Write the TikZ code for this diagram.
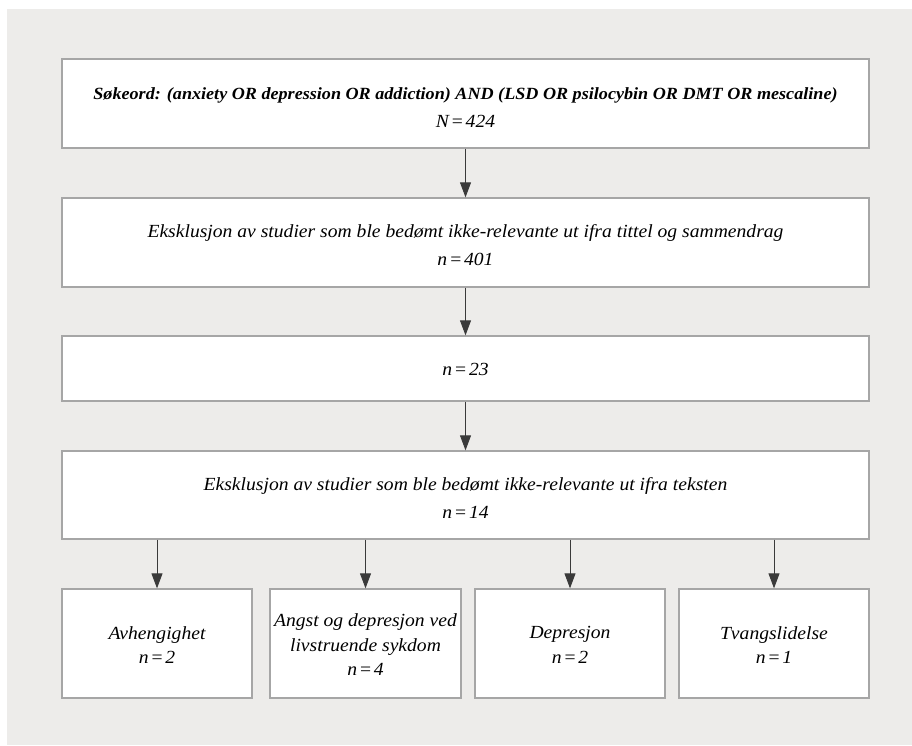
\documentclass[tikz,border=0pt]{standalone}
\usepackage{fontspec}
\setmainfont{Liberation Serif}[FakeStretch=1.06]
\usetikzlibrary{arrows.meta}
\definecolor{bg}{HTML}{EDECEA}
\definecolor{bd}{HTML}{A6A6A6}
\definecolor{ln}{HTML}{3A3A3A}
\newcommand{\eqs}{\kern1.8pt=\kern1.8pt}
\begin{document}
\begin{tikzpicture}[x=1pt,y=-1pt,
  box/.style={draw=bd, line width=1.3pt, fill=white, rectangle, inner sep=0pt},
  arr/.style={draw=ln, line width=0.9pt, -{Triangle[width=11pt,length=15pt]}},
  txt/.style={font=\fontsize{18.5}{28}\selectfont\itshape, align=center, inner sep=0pt},
  stxt/.style={font=\fontsize{18.5}{24.5}\selectfont\itshape, align=center, inner sep=0pt}]
\useasboundingbox (0,0) rectangle (912,745);
\fill[white] (0,0) rectangle (912,745);
\fill[bg] (7,9) rectangle (912,745);
% main boxes
\node[box, minimum width=807pt, minimum height=89pt] (b1) at (465.5,103.5) {};
\node[box, minimum width=807pt, minimum height=89pt] (b2) at (465.5,242.5) {};
\node[box, minimum width=807pt, minimum height=65pt] (b3) at (465.5,368.5) {};
\node[box, minimum width=807pt, minimum height=88pt] (b4) at (465.5,495) {};
% bottom boxes
\node[box, minimum width=190pt, minimum height=109pt] (c1) at (157,643.5) {};
\node[box, minimum width=191pt, minimum height=109pt] (c2) at (365.5,643.5) {};
\node[box, minimum width=190pt, minimum height=109pt] (c3) at (570,643.5) {};
\node[box, minimum width=190pt, minimum height=109pt] (c4) at (774,643.5) {};
% texts
\node[txt] (t1) at (465.5,108) {{\fontsize{17.1}{28}\selectfont\bfseries Søkeord: (anxiety OR depression OR addiction) AND (LSD OR psilocybin OR DMT OR mescaline)}\\N\eqs 424};
\node[txt] (t2) at (465.5,245) {Eksklusjon av studier som ble bedømt ikke-relevante ut ifra tittel og sammendrag\\n\eqs 401};
\node[txt] (t3) at (465.5,369) {n\eqs 23};
\node[txt] (t4) at (465.5,498) {Eksklusjon av studier som ble bedømt ikke-relevante ut ifra teksten\\n\eqs 14};
\node[stxt] (u1) at (157,645) {Avhengighet\\n\eqs 2};
\node[stxt] (u2) at (365.5,645) {Angst og depresjon ved\\livstruende sykdom\\n\eqs 4};
\node[stxt] (u3) at (570,645) {Depresjon\\n\eqs 2};
\node[stxt] (u4) at (774,645) {Tvangslidelse\\n\eqs 1};
% arrows
\draw[arr] (b1.south) -- (b2.north);
\draw[arr] (b2.south) -- (b3.north);
\draw[arr] (b3.south) -- (b4.north);
\draw[arr] (b4.south -| c1.north) -- (c1.north);
\draw[arr] (b4.south -| c2.north) -- (c2.north);
\draw[arr] (b4.south -| c3.north) -- (c3.north);
\draw[arr] (b4.south -| c4.north) -- (c4.north);
\end{tikzpicture}
\end{document}
